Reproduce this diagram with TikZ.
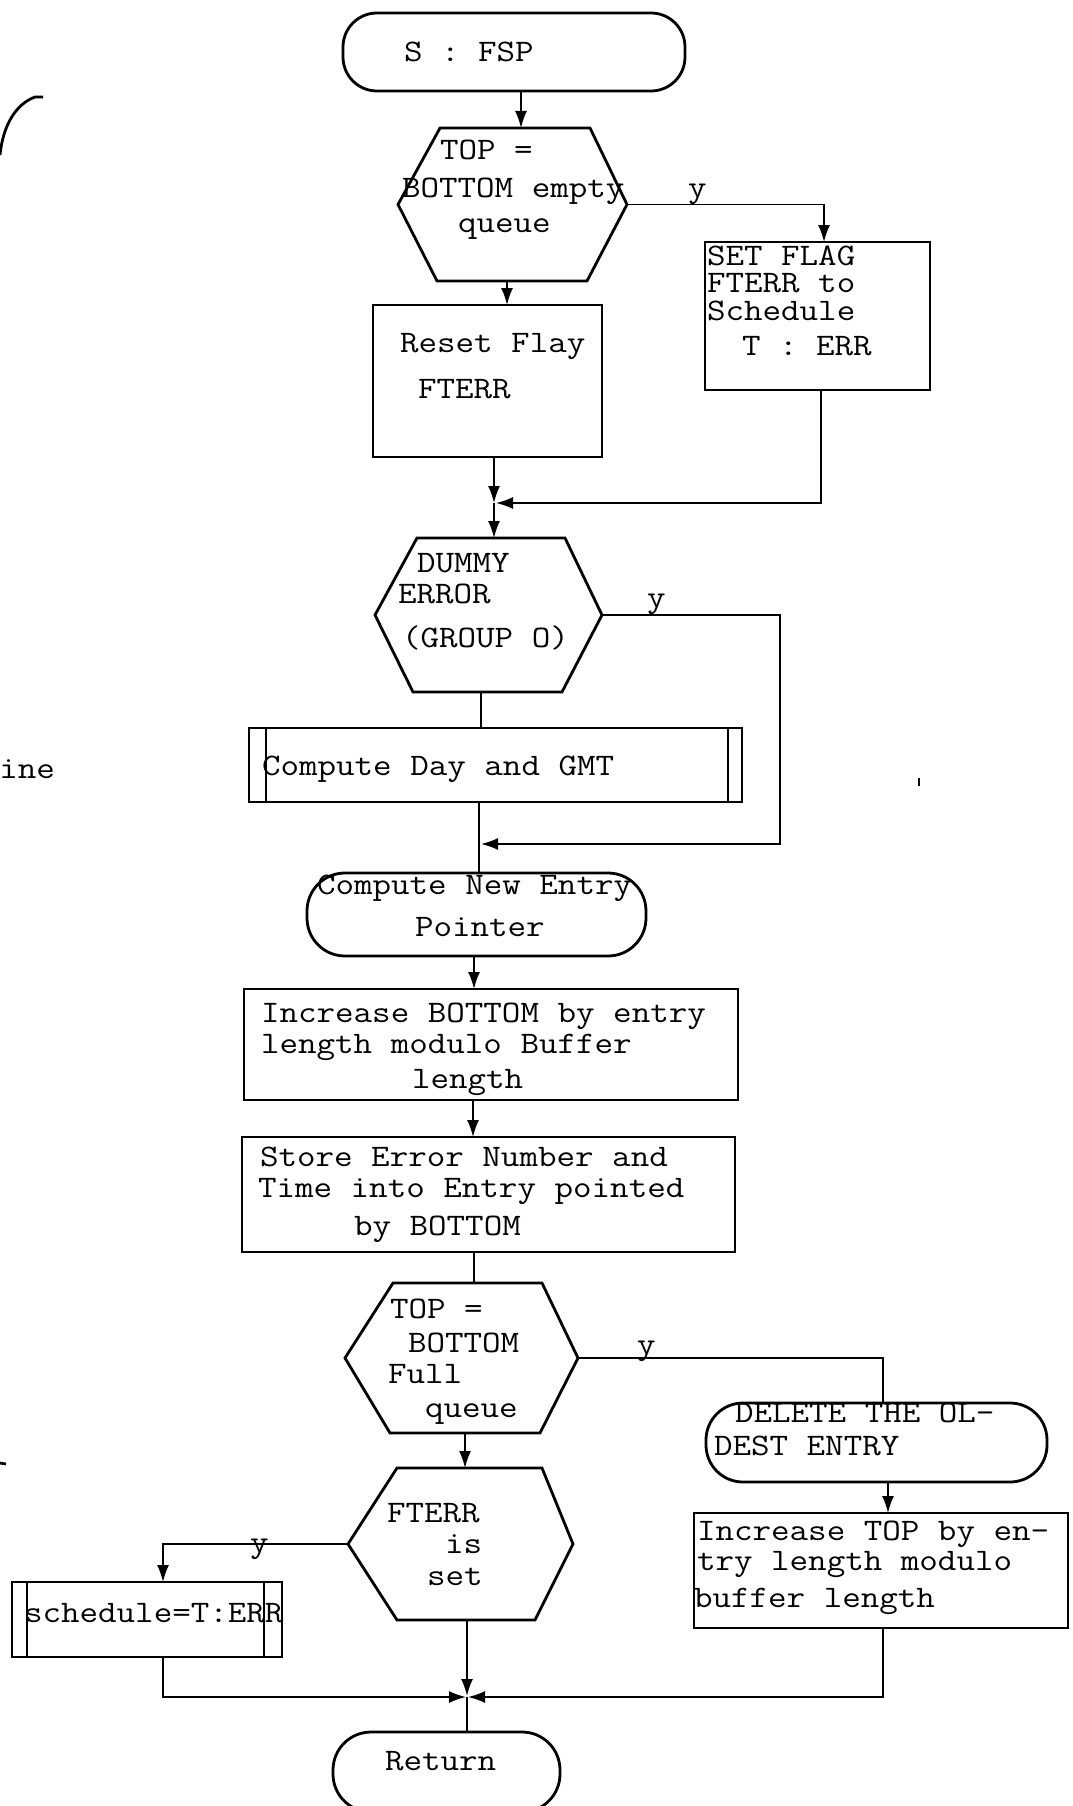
\documentclass[tikz,border=0pt]{standalone}
\usepackage{fontspec}
\usetikzlibrary{arrows.meta,calc}
\newcommand{\tw}[1]{\scalebox{1.15}[1]{#1}}
\tikzset{
  shapeline/.style={draw=black, line width=2.8pt},
  boxst/.style={shapeline, inner sep=0pt, outer sep=0pt},
  termst/.style={shapeline, inner sep=0pt, outer sep=0pt, rounded corners=34pt},
  hexst/.style={draw=none, inner sep=0pt, outer sep=0pt},
  flow/.style={draw=black, line width=1.8pt},
  arr/.style={flow, -{Latex[length=17pt,width=12pt]}},
  txt/.style={inner sep=0pt, outer sep=0pt, anchor=base west, font=\fontsize{31.3pt}{36pt}\ttfamily\addfontfeatures{FakeBold=1.5}},
}
\begin{document}
\begin{tikzpicture}[x=1pt,y=-1pt]
\useasboundingbox (0,0) rectangle (1072,1806);

% ---------- shapes ----------
\node[termst, minimum width=342pt, minimum height=78pt] (start) at (514,52) {};
\node[hexst, minimum width=229pt, minimum height=153pt] (h1) at (512.5,204.5) {};
\draw[shapeline] ($(h1.north west)+(42,0)$) -- ($(h1.north east)+(-37,0)$) -- (h1.east)
  -- ($(h1.south east)+(-40,0)$) -- ($(h1.south west)+(39,0)$) -- (h1.west) -- cycle;
\node[boxst, minimum width=225pt, minimum height=148pt] (sf) at (817.5,316) {};
\node[boxst, minimum width=229pt, minimum height=152pt] (rs) at (487.5,381) {};
\node[hexst, minimum width=227pt, minimum height=154pt] (h2) at (488.5,615) {};
\draw[shapeline] ($(h2.north west)+(42,0)$) -- ($(h2.north east)+(-37,0)$) -- (h2.east)
  -- ($(h2.south east)+(-40,0)$) -- ($(h2.south west)+(38,0)$) -- (h2.west) -- cycle;
\node[boxst, minimum width=493pt, minimum height=74pt] (cd) at (495.5,765) {};
\draw[shapeline] ([xshift=17pt]cd.north west) -- ([xshift=17pt]cd.south west);
\draw[shapeline] ([xshift=-14pt]cd.north east) -- ([xshift=-14pt]cd.south east);
\node[termst, minimum width=339pt, minimum height=83pt, rounded corners=38pt] (cn) at (476.5,914.5) {};
\node[boxst, minimum width=494pt, minimum height=111pt] (ib) at (491,1044.5) {};
\node[boxst, minimum width=493pt, minimum height=115pt] (st) at (488.5,1194.5) {};
\node[hexst, minimum width=233pt, minimum height=150pt] (h3) at (461.5,1358) {};
\draw[shapeline] ($(h3.north west)+(48,0)$) -- ($(h3.north east)+(-36,0)$) -- (h3.east)
  -- ($(h3.south east)+(-38,0)$) -- ($(h3.south west)+(45,0)$) -- (h3.west) -- cycle;
\node[termst, minimum width=341pt, minimum height=79pt, rounded corners=37pt] (dl) at (876.5,1442.5) {};
\node[boxst, minimum width=374pt, minimum height=115pt] (it) at (881,1570.5) {};
\node[hexst, minimum width=225pt, minimum height=152pt] (h4) at (460.5,1544) {};
\draw[shapeline] ($(h4.north west)+(49,0)$) -- ($(h4.north east)+(-31,0)$) -- (h4.east)
  -- ($(h4.south east)+(-38,0)$) -- ($(h4.south west)+(49,0)$) -- (h4.west) -- cycle;
\node[boxst, minimum width=270pt, minimum height=75pt] (sc) at (147,1619.5) {};
\draw[shapeline] ([xshift=15pt]sc.north west) -- ([xshift=15pt]sc.south west);
\draw[shapeline] ([xshift=-18pt]sc.north east) -- ([xshift=-18pt]sc.south east);
\node[termst, minimum width=227pt, minimum height=80pt, rounded corners=38pt] (rt) at (446.5,1772) {};

% ---------- connectors ----------
\coordinate (m1) at (494,503);
\coordinate (m2) at (479,844);
\coordinate (m3) at (467,1697);
\draw[arr] ([xshift=7pt]start.south) -- ([xshift=7pt]start.south |- h1.north);
\draw[arr] (h1.east) -| ([xshift=6.5pt]sf.north);
\draw[arr] ([xshift=-5.5pt]h1.south) -- ([xshift=-5.5pt]h1.south |- rs.north);
\draw[arr] ([xshift=6.5pt]rs.south) -- (m1);
\draw[arr] (m1) -- (m1 |- h2.north);
\draw[arr, shorten >=2pt] ([xshift=3.5pt]sf.south) |- (m1);
\draw[arr, shorten >=2pt] (h2.east) -- ++(178,0) |- (m2);
\draw[flow] ([xshift=-7.5pt]h2.south) -- ([xshift=-7.5pt]h2.south |- cd.north);
\draw[flow] (m2 |- cd.south) -- (m2 |- cn.north);
\draw[arr] ([xshift=-2.5pt]cn.south) -- ([xshift=-2.5pt]cn.south |- ib.north);
\draw[arr] ([xshift=-18pt]ib.south) -- ([xshift=-18pt]ib.south |- st.north);
\draw[flow] ([xshift=-14.5pt]st.south) -- ([xshift=-14.5pt]st.south |- h3.north);
\draw[flow] (h3.east) -| ([xshift=6.5pt]dl.north);
\draw[arr] ([xshift=11.5pt]dl.south) -- ([xshift=11.5pt]dl.south |- it.north);
\draw[arr] ([xshift=3.5pt]h3.south) -- ([xshift=3.5pt]h3.south |- h4.north);
\draw[arr] (h4.west) -| ([xshift=16pt]sc.north);
\draw[arr, shorten >=1pt] ([xshift=16pt]sc.south) |- (m3);
\draw[arr, shorten >=1pt] ([xshift=6.5pt]h4.south) -- (m3);
\draw[arr, shorten >=1pt] ([xshift=2pt]it.south) |- (m3);
\draw[flow] (m3) -- (m3 |- rt.north);

% ---------- texts ----------
\node[txt] (t1) at (404,62) {\tw{S : FSP}};
\node[txt] (t2) at (440,160) {\tw{TOP =}};
\node[txt] (t3) at (402,197) {\tw{BOTTOM empty}};
\node[txt] (t4) at (458,233) {\tw{queue}};
\node[txt] (ly1) at (688,197) {\tw{y}};
\node[txt] (t5) at (707,265) {\tw{SET FLAG}};
\node[txt] (t6) at (707,292) {\tw{FTERR to}};
\node[txt] (t7) at (707,320) {\tw{Schedule}};
\node[txt] (t8) at (742,355) {\tw{T : ERR}};
\node[txt] (t9) at (400,352) {\tw{Reset Flay}};
\node[txt] (t10) at (418,398) {\tw{FTERR}};
\node[txt] (t11) at (417,572) {\tw{DUMMY}};
\node[txt] (t12) at (398,603) {\tw{ERROR}};
\node[txt] (t13) at (402,647) {\tw{(GROUP O)}};
\node[txt] (ly2) at (647,607) {\tw{y}};
\node[txt] (t14) at (262,775) {\tw{Compute Day and GMT}};
\node[txt] (t15) at (317,894) {\tw{Compute New Entry}};
\node[txt] (t16) at (415,936) {\tw{Pointer}};
\node[txt] (t17) at (261,1022) {\tw{Increase BOTTOM by entry}};
\node[txt] (t18) at (261,1053) {\tw{length modulo Buffer}};
\node[txt] (t19) at (412,1088) {\tw{length}};
\node[txt] (t20) at (260,1166) {\tw{Store Error Number and}};
\node[txt] (t21) at (258,1197) {\tw{Time into Entry pointed}};
\node[txt] (t22) at (354,1235) {\tw{by BOTTOM}};
\node[txt] (t23) at (390,1318) {\tw{TOP =}};
\node[txt] (t24) at (408,1352) {\tw{BOTTOM}};
\node[txt] (t25) at (388,1383) {\tw{Full}};
\node[txt] (t26) at (425,1417) {\tw{queue}};
\node[txt] (ly3) at (637,1354) {\tw{y}};
\node[txt] (t27) at (735,1422) {\tw{DELETE THE OL-}};
\node[txt] (t28) at (714,1455) {\tw{DEST ENTRY}};
\node[txt] (t29) at (697,1540) {\tw{Increase TOP by en-}};
\node[txt] (t30) at (697,1570) {\tw{try length modulo}};
\node[txt] (t31) at (694,1607) {\tw{buffer length}};
\node[txt] (t32) at (387,1522) {\tw{FTERR}};
\node[txt] (t33) at (445,1553) {\tw{is}};
\node[txt] (t34) at (427,1585) {\tw{set}};
\node[txt] (ly4) at (250,1552) {\tw{y}};
\node[txt] (t35) at (24,1622) {\tw{schedule=T:ERR}};
\node[txt] (t36) at (385,1770) {\tw{Return}};
\node[txt, anchor=base east] (t37) at (55,778) {\tw{ine}};

% ---------- margin marks of the scanned page ----------
\draw[line width=2.8pt] (43,97) -- (35,97) .. controls (16,104) and (3,125) .. (0,155);
\draw[line width=2.8pt] (0,1463) -- (6,1464);
\draw[line width=1.5pt] (919,778) -- (919,786);
\end{tikzpicture}
\end{document}
